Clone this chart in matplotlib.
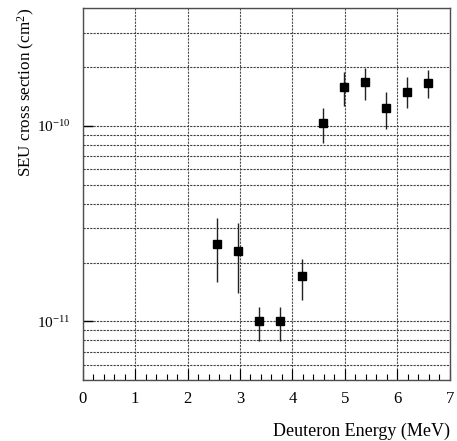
import matplotlib
matplotlib.use("Agg")
import matplotlib.pyplot as plt
import numpy as np
from matplotlib.ticker import FixedLocator, MultipleLocator, LogLocator, NullFormatter, FuncFormatter

plt.rcParams['font.family'] = ['Liberation Serif', 'DejaVu Serif']
plt.rcParams['mathtext.fontset'] = 'custom'
plt.rcParams['mathtext.rm'] = 'Liberation Serif'
plt.rcParams['mathtext.it'] = 'Liberation Serif:italic'

energy = [2.57, 2.97, 3.37, 3.77, 4.18, 4.58, 4.99, 5.39, 5.79, 6.19, 6.59]
sigma = [2.49e-11, 2.30e-11, 1.0e-11, 1.0e-11, 1.70e-11, 1.03e-10, 1.59e-10, 1.67e-10, 1.24e-10, 1.50e-10, 1.66e-10]
sigma_lo = [1.59e-11, 1.39e-11, 7.96e-12, 7.96e-12, 1.28e-11, 8.18e-11, 1.26e-10, 1.36e-10, 9.7e-11, 1.23e-10, 1.39e-10]
sigma_hi = [3.39e-11, 3.20e-11, 1.19e-11, 1.19e-11, 2.09e-11, 1.24e-10, 1.90e-10, 1.99e-10, 1.50e-10, 1.79e-10, 1.93e-10]

x_ticks = [0, 1, 2, 3, 4, 5, 6, 7]

fig = plt.figure(figsize=(4.57, 4.41), dpi=100)
ax = fig.add_axes([0.181, 0.138, 0.803, 0.843])

y = np.array(sigma)
yerr = [y - np.array(sigma_lo), np.array(sigma_hi) - y]
ax.errorbar(energy, sigma, yerr=yerr, fmt='s', color='black', ms=6,
            ecolor='#222222', elinewidth=1.0, capsize=0, zorder=3)

ax.set_yscale('log')
ax.set_xlim(0, 7)
ax.set_ylim(5e-12, 4e-10)

ax.xaxis.set_major_locator(FixedLocator(x_ticks))
ax.xaxis.set_minor_locator(MultipleLocator(0.2))
ax.yaxis.set_major_locator(FixedLocator([1e-11, 1e-10]))
ax.yaxis.set_minor_locator(LogLocator(base=10, subs=np.arange(2, 10)))
ax.yaxis.set_minor_formatter(NullFormatter())
ax.yaxis.set_major_formatter(FuncFormatter(lambda v, p: r'$10^{%d}$' % int(round(np.log10(v)))))

ax.grid(True, which='major', axis='x', linestyle=(0, (2, 1)), color='0.3', lw=0.8)
ax.grid(True, which='both', axis='y', linestyle=(0, (2, 1)), color='0.25', lw=0.8)

ax.tick_params(axis='x', which='major', direction='in', length=8, width=0.8, labelsize=12, pad=8)
ax.tick_params(axis='x', which='minor', direction='in', length=4, width=0.8)
ax.tick_params(axis='y', which='major', direction='in', length=7, width=1.0, labelsize=11, pad=9)
ax.tick_params(axis='y', which='minor', direction='in', length=0)

for s in ax.spines.values():
    s.set_color('0.3')
    s.set_linewidth(1.0)

ax.set_xlabel('Deuteron Energy (MeV)', fontsize=13, loc='right', labelpad=11)
ax.set_ylabel(r'SEU cross section (cm$^2$)', fontsize=12.3, loc='top', labelpad=0)

fig.savefig('out.png', dpi=100)
